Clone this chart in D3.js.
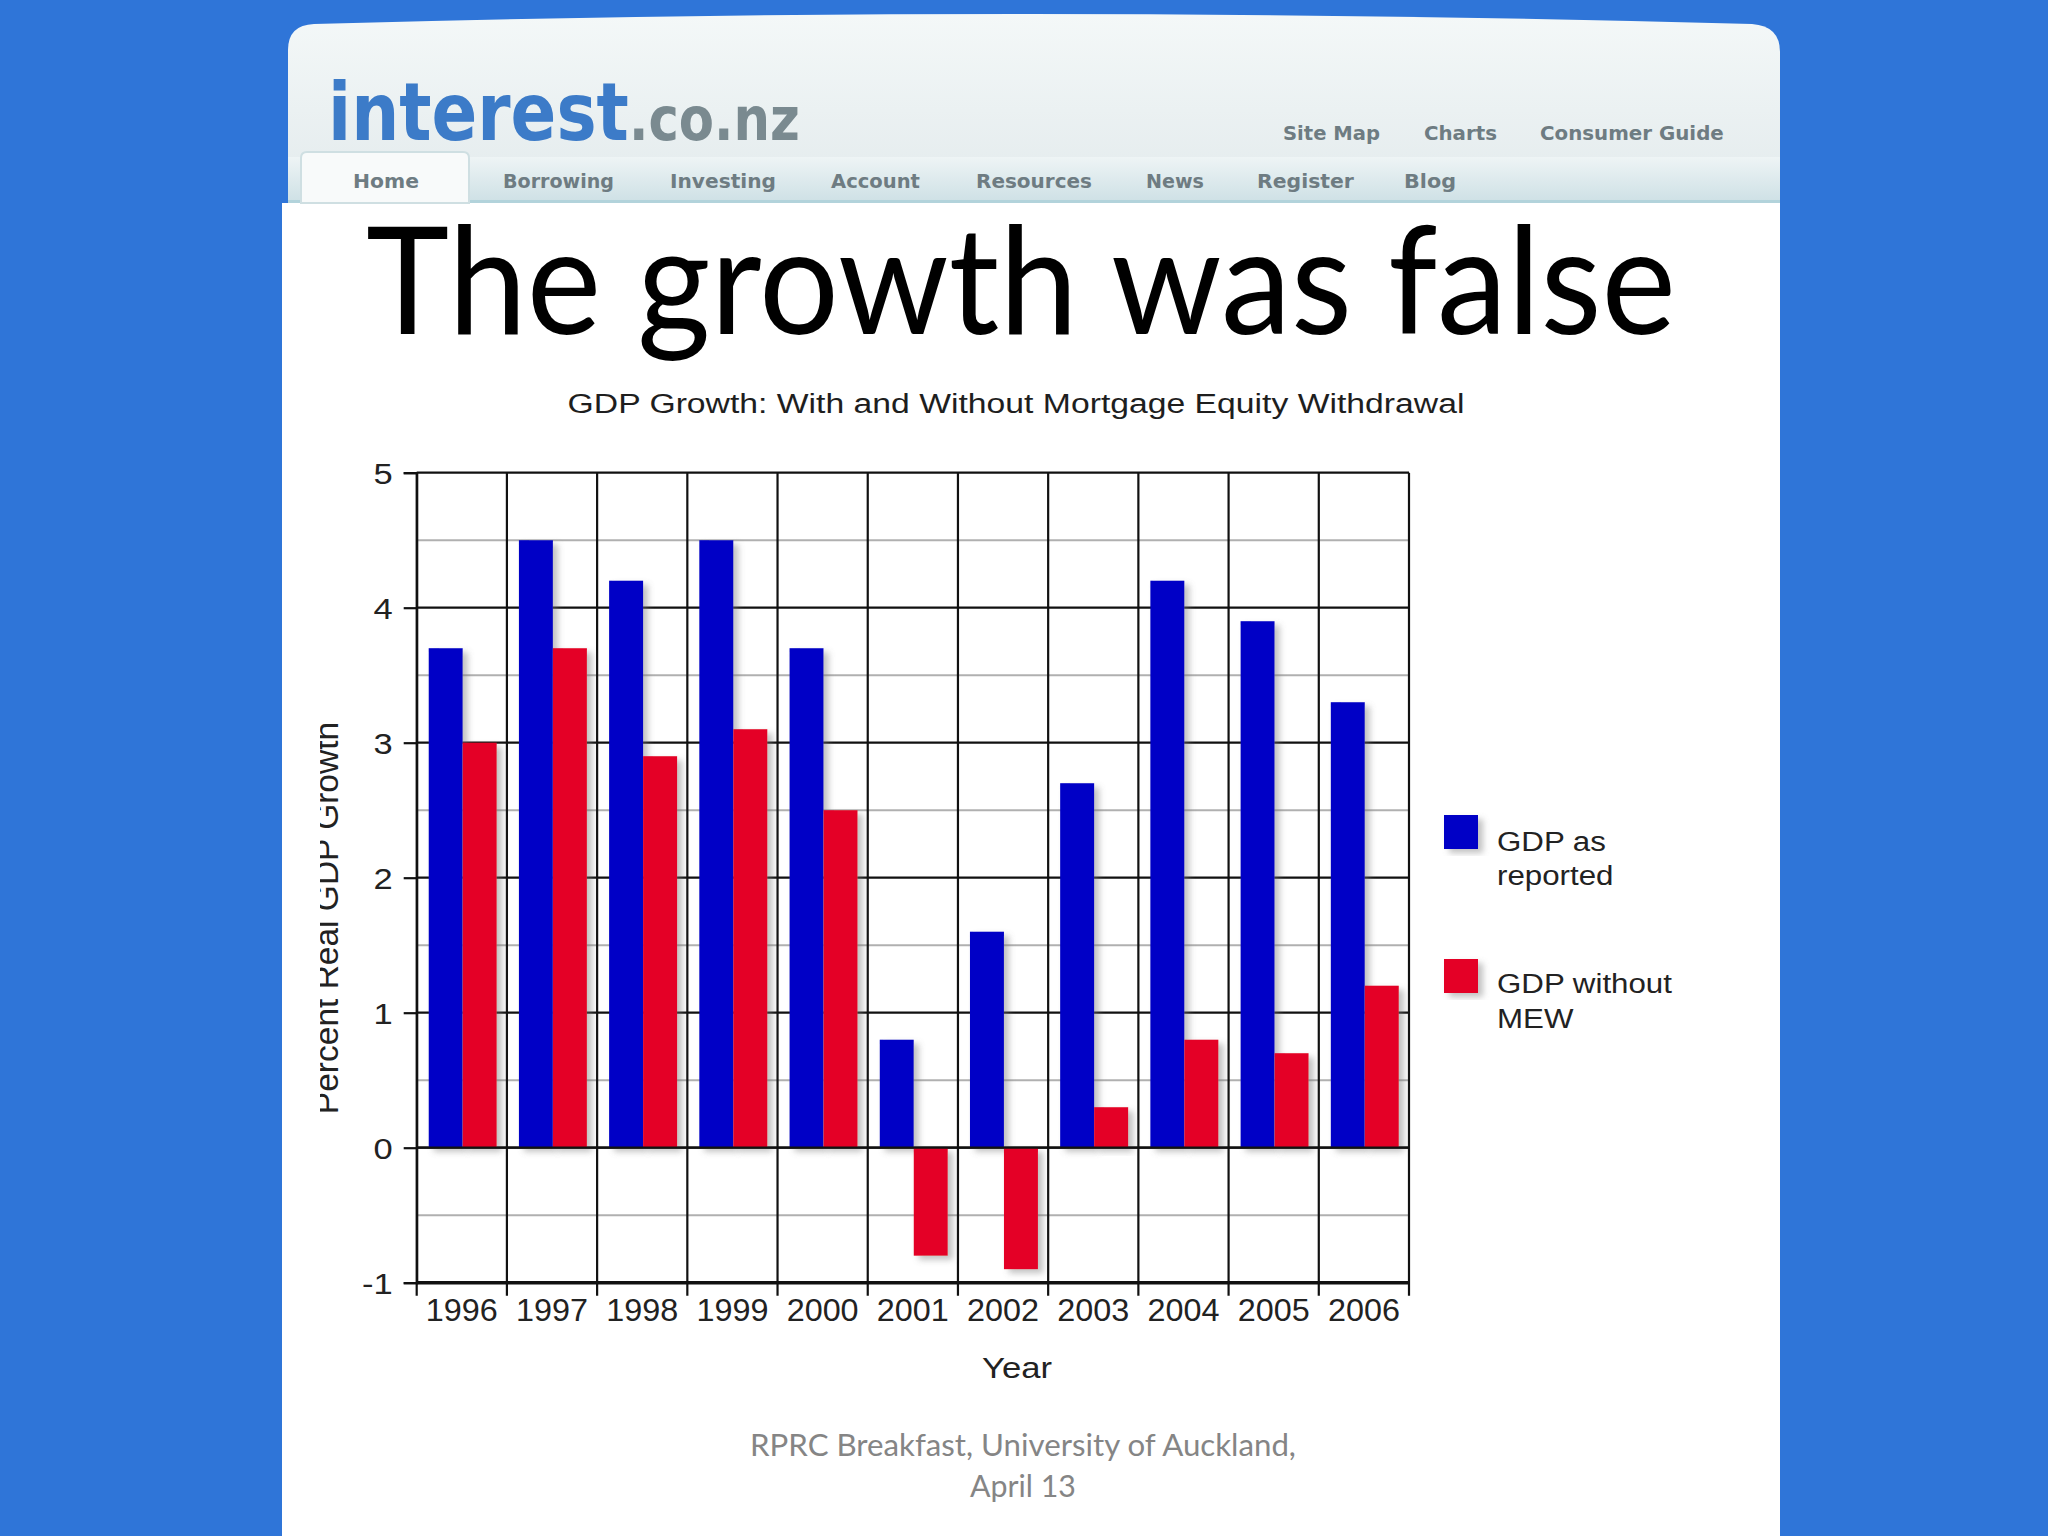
<!DOCTYPE html>
<html><head><meta charset="utf-8">
<script src="https://cdn.jsdelivr.net/npm/d3@7"></script>
<style>html,body{margin:0;padding:0;background:#2f75d8;}svg{display:block;}</style>
</head><body>
<svg id="c" width="2048" height="1536"></svg>
<script>
// ---- data ----
const years = ["1996","1997","1998","1999","2000","2001","2002","2003","2004","2005","2006"];
const gdpReported = [3.7, 4.5, 4.2, 4.5, 3.7, 0.8, 1.6, 2.7, 4.2, 3.9, 3.3];
const gdpWithoutMEW = [3.0, 3.7, 2.9, 3.1, 2.5, -0.8, -0.9, 0.3, 0.8, 0.7, 1.2];
const seriesNames = ["GDP as reported", "GDP without MEW"];
const yTicks = [-1, 0, 1, 2, 3, 4, 5];
const navItems = ["Home","Borrowing","Investing","Account","Resources","News","Register","Blog"];
const topLinks = ["Site Map","Charts","Consumer Guide"];

(function(){
const svg = d3.select("#c");
const defs = svg.append("defs");

// background
svg.append("rect").attr("width",2048).attr("height",1536).attr("fill","#2f75d8");

// gradients
const hg = defs.append("linearGradient").attr("id","hg").attr("x1",0).attr("y1",0).attr("x2",0).attr("y2",1);
hg.append("stop").attr("offset","0%").attr("stop-color","#f4f8f8");
hg.append("stop").attr("offset","100%").attr("stop-color","#e2eaec");
const ng = defs.append("linearGradient").attr("id","ng").attr("x1",0).attr("y1",0).attr("x2",0).attr("y2",1);
ng.append("stop").attr("offset","0%").attr("stop-color","#eef4f5");
ng.append("stop").attr("offset","100%").attr("stop-color","#cde0e5");

// panel header shape
svg.append("path")
  .attr("d","M288,205 L288,50 Q288,25 314,24 Q1022,4 1752,24 Q1780,26 1780,52 L1780,205 Z")
  .attr("fill","url(#hg)");
svg.append("rect").attr("x",288).attr("y",157).attr("width",1492).attr("height",46).attr("fill","url(#ng)");
svg.append("rect").attr("x",288).attr("y",200).attr("width",1492).attr("height",3).attr("fill","#b2d3db");
// body
svg.append("rect").attr("x",282).attr("y",203).attr("width",1498).attr("height",1333).attr("fill","#ffffff");
// home tab
svg.append("path").attr("d","M301,203 L301,158 Q301,152 307,152 L463,152 Q469,152 469,158 L469,203 Z")
  .attr("fill","#f8fafa").attr("stroke","#cfdfe2").attr("stroke-width",2);

// helper: text fitted to a target width by horizontal scaling
function fitText(parent, str, x, y, size, target, opts) {
  opts = opts || {};
  const g = parent.append("g").attr("transform", `translate(${x},${y})`);
  const t = g.append("text").text(str)
    .attr("font-family", opts.family || "Liberation Sans, Arial, sans-serif")
    .attr("font-size", size)
    .attr("font-weight", opts.weight || "normal")
    .attr("fill", opts.fill || "#222")
    .attr("text-anchor", opts.anchor || "start");
  if (target) {
    const len = t.node().getComputedTextLength();
    t.attr("transform", `scale(${target/len},1)`);
  }
  return t;
}

// logo
fitText(svg, "interest", 328, 140, 80, 301, {family:"DejaVu Sans", weight:"bold", fill:"#3c7bc8"});
fitText(svg, ".co.nz", 629, 140, 60, 171, {family:"DejaVu Sans", weight:"bold", fill:"#7a8a90"});
// top links
const topX = [[1283,1380],[1424,1497],[1540,1724]];
topLinks.forEach((s,i)=>fitText(svg, s, topX[i][0], 140, 19, topX[i][1]-topX[i][0], {family:"DejaVu Sans", weight:"bold", fill:"#6e7c82"}));
// nav items
const navX = [[353,419],[503,614],[670,776],[831,920],[976,1092],[1146,1204],[1257,1354],[1404,1456]];
navItems.forEach((s,i)=>fitText(svg, s, navX[i][0], 188, 19, navX[i][1]-navX[i][0], {family:"DejaVu Sans", weight:"bold", fill:"#6e7c82"}));

// slide title
fitText(svg, "The growth was false", 1021, 334, 149, 1310, {family:"Lato, Open Sans, sans-serif", fill:"#000", anchor:"middle"});

// footer
fitText(svg, "RPRC Breakfast, University of Auckland,", 1023, 1456, 31, 546, {family:"Lato, Open Sans, sans-serif", fill:"#858585", anchor:"middle"});
fitText(svg, "April 13", 1023, 1497, 31, 106, {family:"Lato, Open Sans, sans-serif", fill:"#858585", anchor:"middle"});

// ---- chart ----
const pLeft = 416.7, pRight = 1409, pTop = 472.7, pBottom = 1282.7;
const x0 = d3.scaleBand().domain(years).range([pLeft, pRight]).padding(0);
const x1 = d3.scaleBand().domain(seriesNames).range([12, 80]).padding(0);
const y = d3.scaleLinear().domain([-1, 5]).range([pBottom, pTop]);
const color = d3.scaleOrdinal().domain(seriesNames).range(["#0000c6", "#e40028"]);

const shadow = defs.append("filter").attr("id","sh").attr("x","-20%").attr("y","-10%").attr("width","160%").attr("height","130%");
shadow.append("feDropShadow").attr("dx",5).attr("dy",4).attr("stdDeviation",3).attr("flood-color","#777").attr("flood-opacity",0.45);

const chart = svg.append("g");
// chart title
fitText(chart, "GDP Growth: With and Without Mortgage Equity Withdrawal", 1016, 413, 28, 897, {fill:"#1e1e1e", anchor:"middle"});

// half gridlines (gray)
const halfVals = d3.range(-0.5, 5, 1);
chart.selectAll("line.half").data(halfVals).join("line").attr("class","half")
  .attr("x1", pLeft).attr("x2", pRight).attr("y1", d=>y(d)).attr("y2", d=>y(d))
  .attr("stroke", "#b0b0b0").attr("stroke-width", 2);
// integer gridlines (black)
chart.selectAll("line.int").data(yTicks).join("line").attr("class","int")
  .attr("x1", pLeft).attr("x2", pRight).attr("y1", d=>y(d)).attr("y2", d=>y(d))
  .attr("stroke", "#111").attr("stroke-width", d => d === -1 ? 3.5 : 2.2);
// vertical band lines
const bounds = years.map(d => x0(d)).concat([pRight]);
chart.selectAll("line.v").data(bounds).join("line").attr("class","v")
  .attr("x1", d=>d).attr("x2", d=>d).attr("y1", pTop).attr("y2", pBottom + 13)
  .attr("stroke", "#111").attr("stroke-width", 2.2);

// bars
const rows = years.map((yr, i) => ({year: yr, values: [
  {name: seriesNames[0], v: gdpReported[i]},
  {name: seriesNames[1], v: gdpWithoutMEW[i]}]}));
const groups = chart.selectAll("g.yr").data(rows).join("g").attr("class","yr")
  .attr("transform", d => `translate(${x0(d.year)},0)`);
groups.selectAll("rect").data(d => d.values).join("rect")
  .attr("x", d => x1(d.name)).attr("width", x1.bandwidth())
  .attr("y", d => y(Math.max(0, d.v))).attr("height", d => Math.abs(y(d.v) - y(0)))
  .attr("fill", d => color(d.name)).attr("filter", "url(#sh)");

// zero line on top
chart.append("line").attr("x1", pLeft).attr("x2", pRight).attr("y1", y(0)).attr("y2", y(0))
  .attr("stroke", "#111").attr("stroke-width", 2.2);

// y axis
const yAxis = chart.append("g").attr("transform", `translate(${pLeft},0)`)
  .call(d3.axisLeft(y).tickValues(yTicks).tickSize(13).tickPadding(10).tickFormat(d => String(d)));
yAxis.select(".domain").attr("stroke", "#111").attr("stroke-width", 2.2);
yAxis.selectAll(".tick line").attr("stroke", "#111").attr("stroke-width", 2.2);
const ySx = 1.15;
yAxis.selectAll(".tick text")
  .attr("font-family", "Liberation Sans, Arial, sans-serif").attr("font-size", 30).attr("fill", "#222")
  .attr("x", -24 / ySx).attr("dy", "0.36em")
  .attr("transform", `scale(${ySx},1)`);

// x axis labels
const xAxis = chart.append("g").attr("transform", `translate(0,${pBottom})`)
  .call(d3.axisBottom(x0).tickSize(0).tickPadding(0));
xAxis.select(".domain").remove();
xAxis.selectAll(".tick text")
  .attr("font-family", "Liberation Sans, Arial, sans-serif").attr("font-size", 31).attr("fill", "#222")
  .attr("y", 38).attr("dy", 0);
const sampleLen = xAxis.select(".tick text").node().getComputedTextLength();
xAxis.selectAll(".tick text").attr("transform", `scale(${72 / sampleLen},1)`);

// axis titles
fitText(chart, "Year", 1017, 1378, 29, 70, {fill:"#222", anchor:"middle"});
defs.append("clipPath").attr("id","ylab").append("rect").attr("x",320).attr("y",600).attr("width",200).attr("height",700);
const yl = chart.append("g").attr("clip-path","url(#ylab)");
yl.append("text").text("Percent Real GDP Growth")
  .attr("transform", "translate(338,918) rotate(-90)")
  .attr("text-anchor", "middle")
  .attr("font-family", "Liberation Sans, Arial, sans-serif").attr("font-size", 33.5).attr("fill", "#222");

// legend
const legY = [815, 959];
const legLines = [["GDP as", "reported"], ["GDP without", "MEW"]];
const leg = chart.append("g");
leg.selectAll("rect").data(seriesNames).join("rect")
  .attr("x", 1444).attr("y", (d,i) => legY[i]).attr("width", 34).attr("height", 34)
  .attr("fill", d => color(d)).attr("filter", "url(#sh)");
const probe = leg.append("text").text("GDP without").attr("font-family","Liberation Sans, Arial, sans-serif").attr("font-size",28);
const legSx = 175 / probe.node().getComputedTextLength();
probe.remove();
const legBase = [[851, 885], [993, 1028]];
legLines.forEach((ls, i) => ls.forEach((s, j) => {
  leg.append("g").attr("transform", `translate(1497,${legBase[i][j]})`)
    .append("text").text(s).attr("transform", `scale(${legSx},1)`)
    .attr("font-family","Liberation Sans, Arial, sans-serif").attr("font-size",28).attr("fill","#222");
}));
})();
</script>
</body></html>
